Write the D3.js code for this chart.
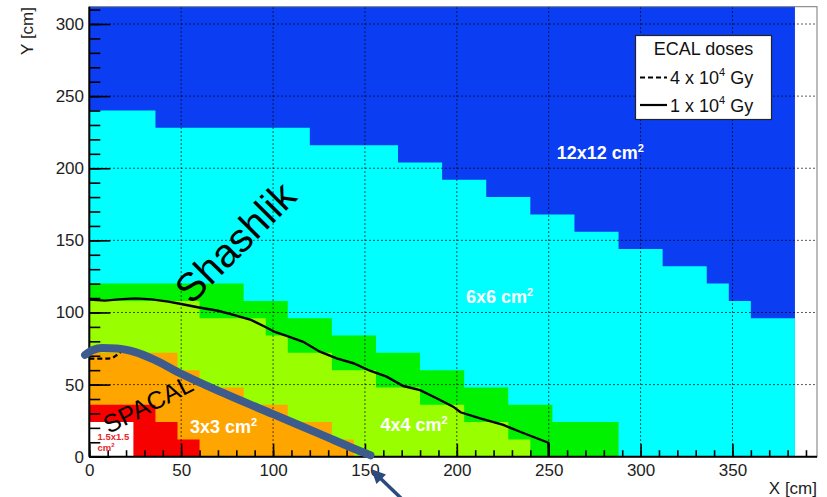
<!DOCTYPE html>
<html>
<head>
<meta charset="utf-8">
<script src="https://cdn.jsdelivr.net/npm/d3@7"></script>
<style>
  body { margin: 0; background: #fff; }
  svg { display: block; }
  text { font-family: "Liberation Sans", Arial, sans-serif; }
</style>
</head>
<body>
<svg id="chart" width="827" height="497"></svg>
<script>
// cell-size regions: column edges [cm] and the top [cm] of each column
const blueEdges = [0, 384];
const blueTop = [312];
const cyanEdges = [0, 36, 120, 168, 192, 216, 240, 264, 288, 312, 336, 348, 360, 384];
const cyanTop = [240, 228, 216, 204, 192, 180, 168, 156, 144, 132, 120, 108, 96];
const greenEdges = [0, 84, 108, 132, 156, 180, 204, 228, 252, 288];
const greenTop = [120, 108, 96, 84, 72, 60, 48, 36, 24];
const limeEdges = [0, 60, 96, 108, 132, 156, 180, 204, 228, 240];
const limeTop = [108, 96, 84, 72, 60, 48, 36, 24, 12];
const orangeEdges = [0, 48, 60, 84, 108, 132, 144];
const orangeTop = [72, 60, 48, 36, 24, 12];
const redEdges = [0, 36, 48, 60];
const redTop = [36, 24, 12];
const holeEdges = [0, 24];
const holeTop = [24];

// dose contours [cm]
const dose1X = [0, 8.5, 16, 25, 34, 43, 50, 59, 70, 79, 88, 95.6, 101, 107.4, 116.4, 125.5, 134.6, 143.7, 152.7, 161.8, 170.9, 180, 189, 198, 202, 212.7, 225.3, 234.4, 249.8, 250];
const dose1Y = [109, 108.2, 109.1, 109.8, 109.1, 107.5, 105.9, 103.6, 101.2, 98.2, 94.8, 90.1, 86.5, 83.7, 79.7, 72.8, 68.2, 64.8, 59.6, 55.5, 49, 46.2, 40.5, 34.7, 30.8, 26.6, 22, 17.3, 9.7, 0];
const dose4X = [0, 8, 12, 15, 18, 25, 35, 50, 75, 100, 125, 145];
const dose4Y = [68, 68, 68.3, 70.5, 73, 72, 67, 57, 42.5, 29, 15.5, 4.5];

// hand-drawn SPACAL boundary [cm]
const spacalX = [-2.3, 2, 7, 15, 25, 35, 50, 75, 100, 125, 150, 153];
const spacalY = [70.6, 74, 75.3, 75, 72.5, 67.5, 57.5, 43, 29.5, 16, 2.5, 1];

const xMajor = d3.range(0, 351, 50);
const xMinor = d3.range(0, 391, 10);
const yMajor = d3.range(0, 301, 50);
const yMinor = d3.range(0, 311, 10);

const svg = d3.select("#chart");
const x = d3.scaleLinear().domain([0, 396]).range([89.3, 817]);
const y = d3.scaleLinear().domain([0, 312]).range([456.7, 6.7]);

function steps(edges, tops) {
  const pts = tops.map((t, i) => [edges[i], t]);
  pts.push([edges[edges.length - 1], tops[tops.length - 1]]);
  return pts;
}
const area = d3.area()
  .x(d => x(d[0]))
  .y0(y(0))
  .y1(d => y(d[1]))
  .curve(d3.curveStepAfter);

const regions = [
  [blueEdges, blueTop, "#0b3ef2"],
  [cyanEdges, cyanTop, "#00ffff"],
  [greenEdges, greenTop, "#00f200"],
  [limeEdges, limeTop, "#99ff00"],
  [orangeEdges, orangeTop, "#ffa500"],
  [redEdges, redTop, "#f70000"],
  [holeEdges, holeTop, "#ffffff"]
];
svg.append("g").selectAll("path")
  .data(regions)
  .join("path")
  .attr("d", d => area(steps(d[0], d[1])))
  .attr("fill", d => d[2]);

// grid
const grid = svg.append("g")
  .attr("stroke", "#000")
  .attr("stroke-width", 1)
  .attr("stroke-dasharray", "1.3,2.7");
grid.selectAll(".gx").data(xMajor.slice(1)).join("line")
  .attr("x1", d => x(d)).attr("x2", d => x(d))
  .attr("y1", y(0)).attr("y2", y(312));
grid.selectAll(".gy").data(yMajor.slice(1)).join("line")
  .attr("y1", d => y(d)).attr("y2", d => y(d))
  .attr("x1", x(0)).attr("x2", x(396));

// contours
const line = d3.line().x(d => x(d[0])).y(d => y(d[1]));
svg.append("path")
  .attr("d", line.curve(d3.curveMonotoneX)(dose4X.map((v, i) => [v, dose4Y[i]])))
  .attr("fill", "none").attr("stroke", "#000")
  .attr("stroke-width", 2.2).attr("stroke-dasharray", "5,3");
svg.append("path")
  .attr("d", line.curve(d3.curveLinear)(dose1X.map((v, i) => [v, dose1Y[i]])))
  .attr("fill", "none").attr("stroke", "#000")
  .attr("stroke-width", 2.4);

// frame
svg.append("rect")
  .attr("x", x(0)).attr("y", y(312))
  .attr("width", x(396) - x(0)).attr("height", y(0) - y(312))
  .attr("fill", "none").attr("stroke", "#777").attr("stroke-width", 1);

// axes
const fontTick = 17;
const gxMinor = svg.append("g").attr("transform", `translate(0,${y(0)})`)
  .call(d3.axisBottom(x).tickValues(xMinor).tickSize(-6.5).tickFormat(""));
const gxMajor = svg.append("g").attr("transform", `translate(0,${y(0)})`)
  .call(d3.axisBottom(x).tickValues(xMajor).tickSize(-13).tickPadding(7.7).tickFormat(d3.format("d")));
const gyMinor = svg.append("g").attr("transform", `translate(${x(0)},0)`)
  .call(d3.axisLeft(y).tickValues(yMinor).tickSize(-11).tickFormat(""));
const gyMajor = svg.append("g").attr("transform", `translate(${x(0)},0)`)
  .call(d3.axisLeft(y).tickValues(yMajor).tickSize(-21).tickPadding(5.3).tickFormat(d3.format("d")));
[gxMinor, gxMajor, gyMinor, gyMajor].forEach(g => {
  g.select(".domain").remove();
  g.selectAll(".tick line").attr("stroke", "#000").attr("stroke-width", 1.6);
  g.selectAll(".tick text")
    .attr("font-family", "'Liberation Sans', Arial, sans-serif")
    .attr("font-size", fontTick).attr("fill", "#1e1e1e");
});
svg.append("line").attr("x1", x(0)).attr("x2", x(396)).attr("y1", y(0)).attr("y2", y(0))
  .attr("stroke", "#000").attr("stroke-width", 2);
svg.append("line").attr("x1", x(0)).attr("x2", x(0)).attr("y1", y(0)).attr("y2", y(312))
  .attr("stroke", "#000").attr("stroke-width", 2);

// axis titles
svg.append("text").attr("x", 817).attr("y", 493.5)
  .attr("text-anchor", "end").attr("font-size", 17).attr("fill", "#1e1e1e")
  .text("X [cm]");
svg.append("text").attr("transform", "translate(32.5,7) rotate(-90)")
  .attr("text-anchor", "end").attr("font-size", 17).attr("fill", "#1e1e1e")
  .text("Y [cm]");

// cell-size labels
function cellLabel(txt, px, py) {
  const t = svg.append("text").attr("x", px).attr("y", py)
    .attr("font-size", 18).attr("font-weight", "bold").attr("fill", "#fff");
  t.append("tspan").text(txt);
  t.append("tspan").attr("dy", -7).attr("font-size", 11).text("2");
}
cellLabel("12x12 cm", 556.7, 159.3);
cellLabel("6x6 cm", 466, 302.7);
cellLabel("4x4 cm", 380.5, 431);
cellLabel("3x3 cm", 190, 432.7);

const small = svg.append("g").attr("fill", "#e8262a").attr("font-weight", "bold").attr("font-size", 9.5);
small.append("text").attr("x", 97.5).attr("y", 440).text("1.5x1.5");
const cm2 = small.append("text").attr("x", 97.5).attr("y", 450.5);
cm2.append("tspan").text("cm");
cm2.append("tspan").attr("dy", -4).attr("font-size", 6).text("2");

// legend
const lg = svg.append("g");
lg.append("rect").attr("x", 635.5).attr("y", 35.5).attr("width", 136).attr("height", 84)
  .attr("fill", "#fff").attr("stroke", "#222").attr("stroke-width", 1.2);
lg.append("text").attr("x", 703.5).attr("y", 54.5).attr("text-anchor", "middle")
  .attr("font-size", 18).attr("fill", "#111").text("ECAL doses");
const legendRows = [["4", "5,3", 77.5], ["1", null, 105]];
legendRows.forEach(r => {
  lg.append("line").attr("x1", 640).attr("x2", 667).attr("y1", r[2]).attr("y2", r[2])
    .attr("stroke", "#000").attr("stroke-width", 2.2)
    .attr("stroke-dasharray", r[1]);
  const t = lg.append("text").attr("x", 670).attr("y", r[2] + 6.5)
    .attr("font-size", 18).attr("fill", "#111");
  t.append("tspan").text(r[0] + " x 10");
  t.append("tspan").attr("dy", -8).attr("font-size", 11).text("4");
  t.append("tspan").attr("dy", 8).text(" Gy");
});

// annotations
svg.append("path")
  .attr("d", d3.line().x(d => x(d[0])).y(d => y(d[1])).curve(d3.curveMonotoneX)(spacalX.map((v, i) => [v, spacalY[i]])))
  .attr("fill", "none").attr("stroke", "#3d5c8c").attr("stroke-width", 8)
  .attr("stroke-linecap", "round");

svg.append("text")
  .attr("transform", "translate(152,412) rotate(-27)")
  .attr("text-anchor", "middle").attr("font-family", "Lato, 'Open Sans', sans-serif")
  .attr("font-size", 25).attr("fill", "#000").text("SPACAL");
svg.append("text")
  .attr("transform", "translate(245,252) rotate(-45)")
  .attr("text-anchor", "middle").attr("font-family", "Lato, 'Open Sans', sans-serif")
  .attr("font-size", 40).attr("fill", "#000").text("Shashlik");

// arrow
svg.append("line").attr("x1", 404).attr("y1", 501).attr("x2", 378).attr("y2", 476)
  .attr("stroke", "#2b4b7e").attr("stroke-width", 3.5);
svg.append("path").attr("d", "M371,469 L386,474.5 L376.5,484 Z").attr("fill", "#2b4b7e");
</script>
</body>
</html>
